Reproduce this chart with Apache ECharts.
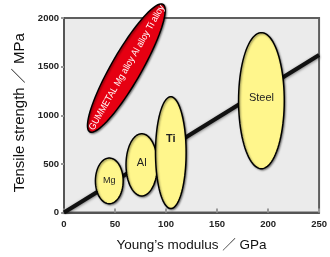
<!DOCTYPE html>
<html>
<head>
<meta charset="utf-8">
<script src="https://cdn.jsdelivr.net/npm/echarts@6/dist/echarts.min.js"></script>
<style>
  html, body { margin: 0; padding: 0; background: #fff; }
  #main { width: 330px; height: 257px; }
</style>
</head>
<body>
<div id="main"></div>
<script>
// 軸の目盛り
var xTicks = [0, 50, 100, 150, 200, 250];
var yTicks = [0, 500, 1000, 1500, 2000];

// 各金属の範囲: 名前, 中心ヤング率(GPa), 中心強度(MPa), 半幅(GPa), 半高(MPa)
var metalNames = ['Mg', 'Al', 'Ti', 'Steel'];
var metalModulus = [44.4, 76.2, 104.7, 193.5];
var metalStrength = [325, 490, 615, 1150];
var metalHalfModulus = [13.6, 15.4, 15, 22.4];
var metalHalfStrength = [235, 320, 575, 700];

// ゴムメタル等の範囲（斜めの楕円の両端）
var gumName = 'GUMMETAL Mg alloy Al alloy Ti alloy';
var gumEnds = [[25.2, 830], [97, 2140]];

// 比例の線
var trend = [[0, 0], [250, 1620]];

var metalData = metalNames.map(function (n, i) {
  return [metalModulus[i], metalStrength[i], metalHalfModulus[i], metalHalfStrength[i], n];
});

// ラベルの位置調整（ピクセル）
var labelDy = { Mg: 0, Al: -2, Ti: -14, Steel: -3 };
var labelFont = { Mg: '9px', Al: '11px', Ti: 'bold 11px', Steel: '11px' };

function ellipsePts(c, u, v) {
  var pts = [];
  for (var i = 0; i < 90; i++) {
    var t = i / 90 * Math.PI * 2;
    pts.push([
      c[0] + u[0] * Math.cos(t) + v[0] * Math.sin(t),
      c[1] + u[1] * Math.cos(t) + v[1] * Math.sin(t)
    ]);
  }
  return pts;
}

var shadow = { shadowBlur: 2, shadowOffsetX: 1, shadowOffsetY: 1, shadowColor: 'rgba(0,0,0,0.45)' };
var plain = function (v) { return String(v); };

var config = {
  animation: false,
  grid: {
    left: 64, right: -2, top: 18, bottom: 39,
    show: true,
    backgroundColor: '#ebebeb',
    borderColor: '#5e5e5e',
    borderWidth: 2
  },
  xAxis: {
    type: 'value',
    min: xTicks[0], max: xTicks[xTicks.length - 1], interval: 50,
    name: 'Young\u2019s modulus \uFF0F GPa',
    nameLocation: 'middle',
    nameGap: 26,
    nameTextStyle: { fontSize: 13.5, color: '#111', fontFamily: 'Liberation Sans, Noto Sans CJK JP' },
    axisLine: { lineStyle: { color: '#555', width: 2 } },
    axisTick: { inside: true, length: 4, lineStyle: { color: '#999', width: 2 } },
    splitLine: { show: false },
    axisLabel: { fontSize: 9.5, fontWeight: 'bold', color: '#222', margin: 7, fontFamily: 'Liberation Sans', formatter: plain }
  },
  yAxis: {
    type: 'value',
    min: yTicks[0], max: yTicks[yTicks.length - 1], interval: 500,
    name: 'Tensile strength \uFF0F MPa',
    nameLocation: 'middle',
    nameGap: 34,
    nameTextStyle: { fontSize: 15, color: '#111', fontFamily: 'Liberation Sans, Noto Sans CJK JP', padding: [0, 0, 0, 5] },
    axisLine: { lineStyle: { color: '#555', width: 2 } },
    axisTick: { length: 3, lineStyle: { color: '#999', width: 2 } },
    splitLine: { show: false },
    axisLabel: { fontSize: 9.5, fontWeight: 'bold', color: '#222', margin: 5, fontFamily: 'Liberation Sans', formatter: plain }
  },
  series: [
    {
      type: 'line',
      data: trend,
      symbol: 'none',
      lineStyle: { color: '#111', width: 4, shadowBlur: 3, shadowColor: 'rgba(0,0,0,0.5)', shadowOffsetY: 1 },
      z: 2
    },
    {
      type: 'custom',
      data: metalData,
      z: 3,
      renderItem: function (params, api) {
        var c = api.coord([api.value(0), api.value(1)]);
        var s = api.size([api.value(2), api.value(3)]);
        var name = metalNames[params.dataIndex];
        return {
          type: 'group',
          children: [
            {
              type: 'polygon',
              shape: { points: ellipsePts(c, [s[0], 0], [0, s[1]]) },
              style: Object.assign({ fill: '#fff68c', stroke: '#000', lineWidth: 1.5 }, shadow)
            },
            {
              type: 'text',
              x: c[0], y: c[1] + labelDy[name],
              style: {
                text: name, fill: '#222', align: 'center', verticalAlign: 'middle',
                font: labelFont[name] + ' Liberation Sans'
              }
            }
          ]
        };
      }
    },
    {
      type: 'custom',
      data: [[gumEnds[0][0], gumEnds[0][1], gumEnds[1][0], gumEnds[1][1]]],
      z: 4,
      renderItem: function (params, api) {
        var p1 = api.coord([api.value(0), api.value(1)]);
        var p2 = api.coord([api.value(2), api.value(3)]);
        var c = [(p1[0] + p2[0]) / 2, (p1[1] + p2[1]) / 2];
        var u = [(p2[0] - p1[0]) / 2, (p2[1] - p1[1]) / 2];
        var len = Math.sqrt(u[0] * u[0] + u[1] * u[1]);
        var half = 15;
        var v = [-u[1] / len * half, u[0] / len * half];
        var ang = -Math.atan2(p2[1] - p1[1], p2[0] - p1[0]);
        return {
          type: 'group',
          children: [
            {
              type: 'polygon',
              shape: { points: ellipsePts(c, u, v) },
              style: Object.assign({ fill: '#e60012', stroke: '#000', lineWidth: 1.5 }, shadow)
            },
            {
              type: 'text',
              x: c[0] + 0.5, y: c[1] - 0.5, rotation: ang, scaleX: 0.9,
              style: {
                text: gumName, fill: '#fff', align: 'center', verticalAlign: 'middle',
                font: '9.6px Liberation Sans'
              }
            }
          ]
        };
      }
    }
  ]
};

var myChart = echarts.init(document.getElementById('main'));
myChart.setOption(config);
</script>
</body>
</html>
